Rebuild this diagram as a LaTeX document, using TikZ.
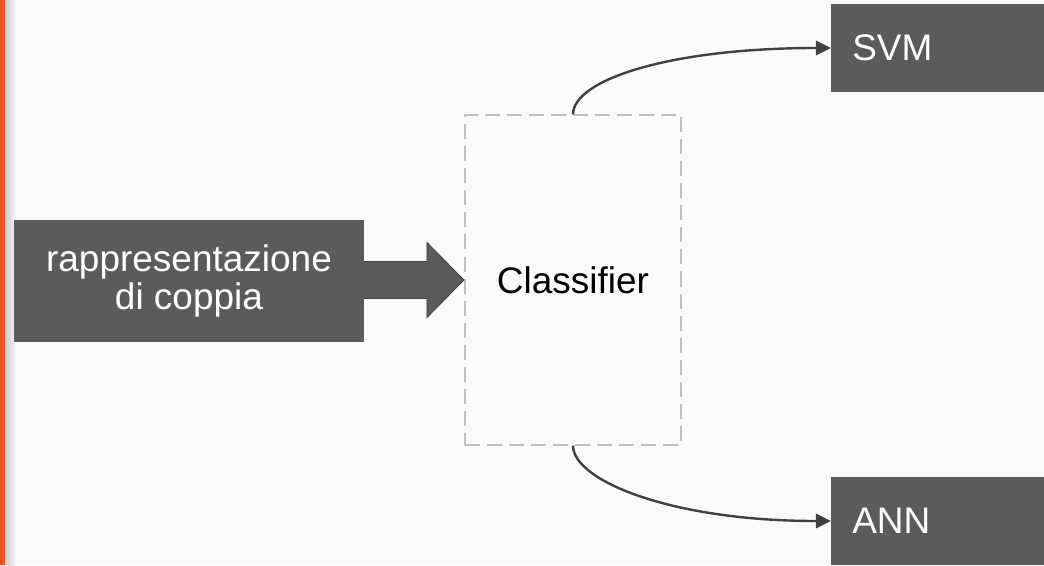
\documentclass[tikz,border=0pt]{standalone}
\usepackage{fontspec}
\setmainfont{Liberation Sans}
\usetikzlibrary{arrows.meta,calc}
\definecolor{boxgray}{HTML}{5A5B5D}
\definecolor{pagebg}{HTML}{FAFAFA}
\definecolor{edgegray}{HTML}{BFBFBF}
\definecolor{linegray}{HTML}{404040}
\definecolor{stripe}{HTML}{F0522A}

\begin{document}
\begin{tikzpicture}[x=0.025cm, y=-0.025cm]
                \tikzstyle{darkbox} = [rectangle, fill=boxgray, text=white, font=\fontsize{26.3pt}{27pt}\selectfont]
                \tikzstyle{outbox} = [darkbox, minimum height=2.2cm, text width=5cm, inner xsep=0.525cm, align=left, anchor=west]
                \tikzstyle{dashbox} = [rectangle, draw=edgegray, line width=0.05cm, dash pattern=on 0.375cm off 0.175cm, minimum width=5.4cm, minimum height=8.225cm, font=\fontsize{26.3pt}{27pt}\selectfont, text=black]
                \tikzstyle{arrow} = [draw=linegray, line width=0.06cm, -{Triangle[length=0.38cm, width=0.36cm]}]
                \tikzstyle{bigarrow} = [fill=boxgray, draw=linegray, line width=0.02cm, line join=miter]
                % page
                \fill[pagebg] (0,0) rectangle (1044,565);
                \useasboundingbox (0,0) rectangle (1044,565);
                \shade[left color=gray!45, right color=pagebg] (4,0) rectangle (16,565);
                \fill[stripe] (0,0) rectangle (4.5,565);

                \node (pair) [darkbox, minimum width=8.75cm, minimum height=3.05cm, align=center] at (189,281) {rappresentazione\\di coppia};
                \node (clf) [dashbox] at (573,280) {Classifier};
                \node (svm) [outbox] at (831,48) {SVM};
                \node (ann) [outbox] at (831,521) {ANN};

                \coordinate (tail) at (pair.east |- clf.west);
                \draw [bigarrow] ($(tail)+(0,-18.5)$) -- ($(clf.west)+(-37,-18.5)$) -- ($(clf.west)+(-37,-37.5)$) -- (clf.west)
                    -- ($(clf.west)+(-37,37.5)$) -- ($(clf.west)+(-37,18.5)$) -- ($(tail)+(0,18.5)$) -- cycle;
                \draw [arrow] (clf.north) .. controls +(0,-35) and +(-160,0) .. (svm.west);
                \draw [arrow] (clf.south) .. controls +(0,35) and +(-160,0) .. (ann.west);
            \end{tikzpicture}
\end{document}
